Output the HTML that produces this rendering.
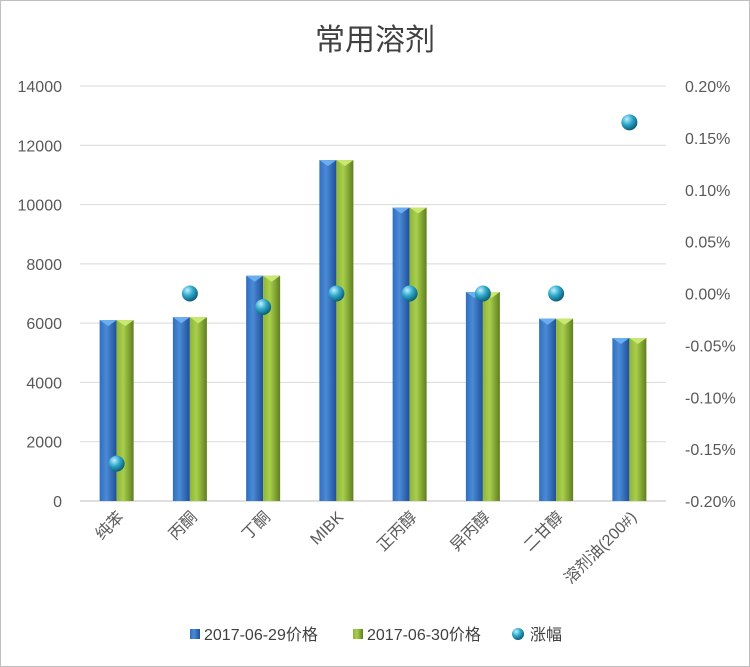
<!DOCTYPE html>
<html><head><meta charset="utf-8"><style>
body{margin:0;background:#fff}
svg{display:block;font-family:"Liberation Sans","Noto Sans CJK SC",sans-serif}
</style></head><body>
<svg id="c" width="750" height="667">
<defs>
<linearGradient id="gb" x1="0" x2="1"><stop offset="0" stop-color="#2f6fbf"/><stop offset="0.4" stop-color="#4a8ad6"/><stop offset="1" stop-color="#1f4f96"/></linearGradient>
<linearGradient id="gg" x1="0" x2="1"><stop offset="0" stop-color="#8fb53a"/><stop offset="0.4" stop-color="#a8cf4c"/><stop offset="1" stop-color="#5f7e1f"/></linearGradient>
<radialGradient id="gd" cx="0.35" cy="0.3" r="0.7"><stop offset="0" stop-color="#bff0ff"/><stop offset="0.5" stop-color="#2fa9cc"/><stop offset="1" stop-color="#0f5f7a"/></radialGradient>
</defs>
<rect x="0.5" y="0.5" width="749" height="666" fill="#fff" stroke="#bfbfbf"/>
<text x="375" y="50" text-anchor="middle" font-size="30" fill="#404040">常用溶剂</text>
<g id="g"></g>
<g>
<rect x="190" y="629" width="10" height="10" fill="url(#gb)"/>
<text x="204" y="640" font-size="16" fill="#404040">2017-06-29价格</text>
<rect x="353" y="629" width="10" height="10" fill="url(#gg)"/>
<text x="367" y="640" font-size="16" fill="#404040">2017-06-30价格</text>
<circle cx="518" cy="634" r="6" fill="url(#gd)"/>
<text x="530" y="640" font-size="16" fill="#404040">涨幅</text>
</g>
</svg>
<script>
const categories=["纯苯","丙酮","丁酮","MIBK","正丙醇","异丙醇","二甘醇","溶剂油(200#)"];
const price0629=[6100,6200,7600,11500,9900,7050,6150,5500];
const price0630=[6100,6200,7600,11500,9900,7050,6150,5500];
const changePct=[-0.164,0,-0.013,0,0,0,0,0.165];
const leftTicks=[0,2000,4000,6000,8000,10000,12000,14000];
const rightTicks=["0.20%","0.15%","0.10%","0.05%","0.00%","-0.05%","-0.10%","-0.15%","-0.20%"];
const NS="http://www.w3.org/2000/svg",g=document.getElementById("g");
const X0=80,X1=666,Y0=501,Y1=86;
const yL=v=>Y0-(v/14000)*(Y0-Y1);
const yR=p=>Y0-((p+0.2)/0.4)*(Y0-Y1);
const step=(X1-X0)/categories.length;
const xc=i=>X0+step*(i+0.5);
function mk(t,a,p){const e=document.createElementNS(NS,t);for(const k in a)e.setAttribute(k,a[k]);(p||g).appendChild(e);return e;}
leftTicks.forEach(v=>{
 const l=mk("line",{x1:X0,x2:X1,y1:yL(v),y2:yL(v),stroke:v?"#d9d9d9":"#bfbfbf"});
 
 
 const t=mk("text",{x:62,y:yL(v)+6,"text-anchor":"end","font-size":16,fill:"#595959"});t.textContent=v;
 
 
});
rightTicks.forEach((s,i)=>{
 const t=mk("text",{x:685,y:Y1+i*(Y0-Y1)/8+6,"font-size":16,fill:"#595959"});t.textContent=s;
 
 
});
categories.forEach((c,i)=>{
 const x=xc(i);
 const b=mk("rect",{x:x-17,y:yL(price0629[i]),width:17,height:Y0-yL(price0629[i]),fill:"url(#gb)"});
 
 
 mk("polygon",{points:`${x-17},${yL(price0629[i])} ${x},${yL(price0629[i])} ${x-8.5},${yL(price0629[i])+6}`,fill:"#6aaef0"});
 const b2=mk("rect",{x:x,y:yL(price0630[i]),width:17,height:Y0-yL(price0630[i]),fill:"url(#gg)"});
 
 
 mk("polygon",{points:`${x},${yL(price0630[i])} ${x+17},${yL(price0630[i])} ${x+8.5},${yL(price0630[i])+6}`,fill:"#c8e872"});
 const t=mk("text",{x:x+8,y:518,"text-anchor":"end","font-size":16,fill:"#595959",transform:`rotate(-45 ${x+8} 518)`});t.textContent=c;
 
 
});
categories.forEach((c,i)=>{
 const d=mk("circle",{cx:xc(i),cy:yR(changePct[i]),r:8,fill:"url(#gd)"});
 
 
});
</script>
</body></html>
